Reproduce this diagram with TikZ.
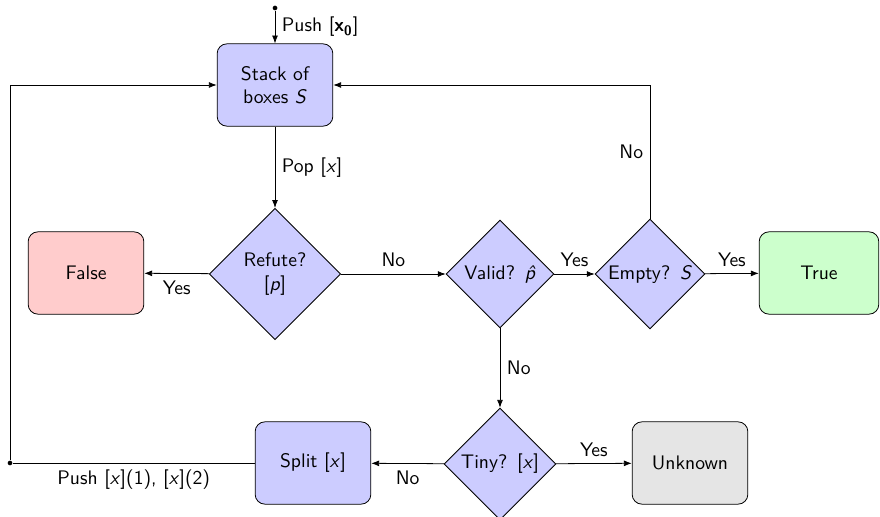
\documentclass[tikz,border=0pt]{standalone}
\usetikzlibrary{arrows.meta,shapes.geometric}

\tikzset{
  box/.style={draw, rounded corners=5pt, fill=blue!20, minimum width=59pt,
    minimum height=42pt, align=center},
  decision/.style={draw, diamond, aspect=1, inner sep=1pt, fill=blue!20,
    align=center},
  flow/.style={-{Latex[length=4pt,width=3pt]}},
  enddot/.style={fill, circle, inner sep=0pt, minimum size=2.4pt}
}
\newcommand{\ivar}[1]{\textit{#1}}

\begin{document}
\begin{tikzpicture}[x=.51pt,y=-.51pt, every node/.style={font=\sffamily}]
  \useasboundingbox (0,0) rectangle (880,517);

  % main loop
  \node[box] (stack) at (275,85) {Stack of\\boxes \ivar{S}};
  \node[decision, minimum size=67pt] (refute) at (275,274) {Refute?\\{[\ivar{p}]}};
  \node[decision, minimum size=55pt] (valid) at (500,274) {Valid?\enspace\ivar{\^{p}}};
  \node[decision, minimum size=54pt] (empty) at (650,274) {Empty?\enspace\ivar{S}};
  \node[decision, minimum size=57pt] (tiny) at (500,464) {Tiny?\enspace[\ivar{x}]};
  \node[box] (split) at (313,463) {Split [\ivar{x}]};

  % outcomes
  \node[box, fill=red!20] (false) at (86,273) {False};
  \node[box, fill=green!20, minimum width=61pt] (true) at (819,273) {True};
  \node[box, fill=gray!20] (unknown) at (690,463) {Unknown};

  \node[enddot] (start) at (275,8) {};
  \node[enddot] (ret) at (10,463) {};

  \draw[flow] (start) -- (stack) node[midway,right] {Push [\textbf{x}\textsubscript{\textbf{0}}]};
  \draw[flow] (stack) -- (refute) node[midway,right] {Pop [\ivar{x}]};
  \draw[flow] (refute) -- (false) node[midway,below] {Yes};
  \draw[flow] (refute) -- (valid) node[midway,above] {No};
  \draw[flow] (valid) -- (empty) node[midway,above] {Yes};
  \draw[flow] (empty) -- (true) node[midway,above] {Yes};
  \draw[flow] (empty) |- (stack) node[pos=.25,left] {No};
  \draw[flow] (valid) -- (tiny) node[midway,right] {No};
  \draw[flow] (tiny) -- (unknown) node[midway,above] {Yes};
  \draw[flow] (tiny) -- (split) node[midway,below] {No};
  \draw (split) -- (ret) node[midway,below] {Push [\ivar{x}](1), [\ivar{x}](2)};
  \draw[flow] (ret) |- (stack);
\end{tikzpicture}
\end{document}
